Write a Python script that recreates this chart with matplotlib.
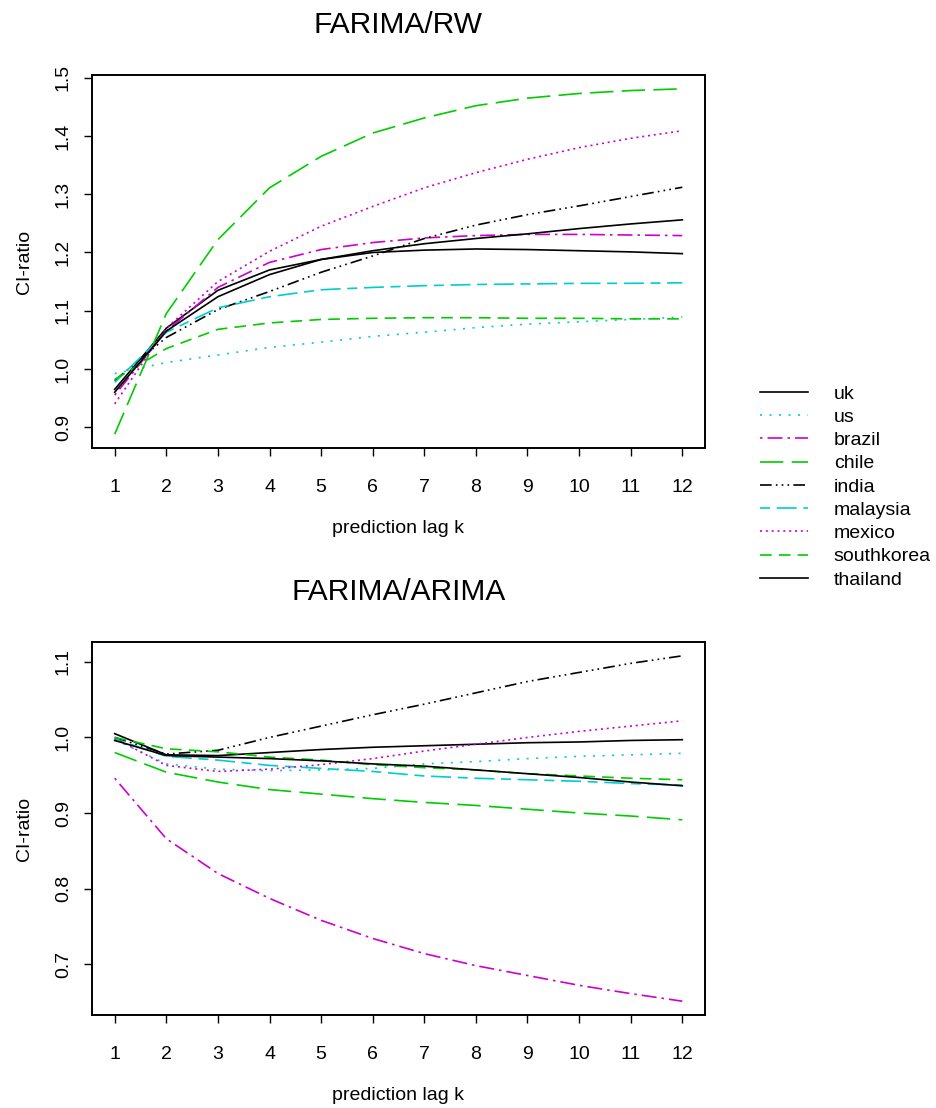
import matplotlib
matplotlib.use("Agg")
import matplotlib.pyplot as plt

plt.rcParams['font.family'] = ['Liberation Sans', 'DejaVu Sans']

lags = list(range(1, 13))
countries = ["uk", "us", "brazil", "chile", "india", "malaysia", "mexico", "southkorea", "thailand"]

# FARIMA/RW CI-ratio
rw_uk         = [0.965, 1.070, 1.135, 1.170, 1.188, 1.200, 1.204, 1.206, 1.205, 1.203, 1.201, 1.198]
rw_us         = [0.992, 1.011, 1.024, 1.037, 1.046, 1.056, 1.063, 1.071, 1.077, 1.081, 1.085, 1.089]
rw_brazil     = [0.955, 1.065, 1.140, 1.183, 1.205, 1.217, 1.225, 1.229, 1.231, 1.231, 1.230, 1.229]
rw_chile      = [0.888, 1.095, 1.222, 1.311, 1.365, 1.405, 1.431, 1.452, 1.465, 1.473, 1.478, 1.481]
rw_india      = [0.980, 1.054, 1.102, 1.133, 1.166, 1.194, 1.224, 1.247, 1.265, 1.280, 1.296, 1.312]
rw_malaysia   = [0.977, 1.063, 1.105, 1.124, 1.136, 1.140, 1.143, 1.145, 1.146, 1.147, 1.147, 1.148]
rw_mexico     = [0.940, 1.070, 1.150, 1.202, 1.245, 1.279, 1.311, 1.337, 1.360, 1.380, 1.396, 1.409]
rw_southkorea = [0.982, 1.035, 1.068, 1.079, 1.085, 1.087, 1.088, 1.088, 1.087, 1.087, 1.086, 1.086]
rw_thailand   = [0.960, 1.065, 1.124, 1.162, 1.188, 1.203, 1.215, 1.224, 1.232, 1.241, 1.249, 1.256]

# FARIMA/ARIMA CI-ratio
ar_uk         = [1.005, 0.977, 0.976, 0.980, 0.984, 0.987, 0.989, 0.991, 0.993, 0.994, 0.996, 0.997]
ar_us         = [0.997, 0.965, 0.958, 0.956, 0.957, 0.959, 0.965, 0.968, 0.972, 0.975, 0.977, 0.979]
ar_brazil     = [0.946, 0.866, 0.820, 0.787, 0.758, 0.734, 0.714, 0.698, 0.685, 0.672, 0.661, 0.651]
ar_chile      = [0.980, 0.954, 0.941, 0.931, 0.925, 0.919, 0.914, 0.910, 0.905, 0.900, 0.896, 0.891]
ar_india      = [1.000, 0.978, 0.983, 1.000, 1.015, 1.030, 1.044, 1.059, 1.074, 1.086, 1.098, 1.108]
ar_malaysia   = [0.998, 0.975, 0.970, 0.963, 0.959, 0.955, 0.949, 0.946, 0.944, 0.942, 0.939, 0.937]
ar_mexico     = [0.999, 0.963, 0.955, 0.958, 0.964, 0.972, 0.982, 0.991, 1.000, 1.008, 1.015, 1.022]
ar_southkorea = [1.000, 0.985, 0.981, 0.974, 0.970, 0.964, 0.960, 0.957, 0.952, 0.949, 0.946, 0.944]
ar_thailand   = [0.996, 0.976, 0.974, 0.972, 0.969, 0.965, 0.962, 0.957, 0.952, 0.947, 0.941, 0.936]

rw_series = [rw_uk, rw_us, rw_brazil, rw_chile, rw_india, rw_malaysia, rw_mexico, rw_southkorea, rw_thailand]
ar_series = [ar_uk, ar_us, ar_brazil, ar_chile, ar_india, ar_malaysia, ar_mexico, ar_southkorea, ar_thailand]

colors = ["black", "#00CDCD", "#CD00CD", "#00CD00", "black", "#00CDCD", "#CD00CD", "#00CD00", "black"]
styles = [
    "-",
    (0, (1.2, 4.5)),
    (0, (1.5, 3, 9, 3)),
    (0, (14, 5)),
    (0, (7, 2.5, 1, 2.5, 1, 2.5, 1, 2.5)),
    (0, (6, 4, 12, 4)),
    (0, (1.2, 2.3)),
    (0, (7, 4.3)),
    "-",
]

FS = 14

fig = plt.figure(figsize=(9.37, 11.08), dpi=100)
ax1 = fig.add_axes([92/937, 1-448/1108, 613/937, 373/1108])
ax2 = fig.add_axes([92/937, 1-1015/1108, 613/937, 373/1108])

def draw(ax, series, title, yticks):
    lines = []
    for s, c, ls in zip(series, colors, styles):
        ln, = ax.plot(lags, s, color=c, linestyle=ls, linewidth=1.2)
        lines.append(ln)
    ax.margins(x=0.04, y=0.04)
    ax.set_xticks(lags)
    ax.set_yticks(yticks)
    ax.set_yticklabels([f"{v:.1f}" for v in yticks], rotation=90, va='center')
    ax.tick_params(direction='out', length=5.5, width=1.0, labelsize=FS, color='black')
    ax.tick_params(axis='x', pad=17)
    ax.tick_params(axis='y', pad=9)
    for sp in ax.spines.values():
        sp.set_linewidth(1.4)
    ax.set_xlabel("prediction lag k", fontsize=FS, labelpad=17)
    ax.set_ylabel("CI-ratio", fontsize=FS, labelpad=16)
    ax.set_title(title, fontsize=21.5, pad=30)
    return lines

lines = draw(ax1, rw_series, "FARIMA/RW", [0.9, 1.0, 1.1, 1.2, 1.3, 1.4, 1.5])
draw(ax2, ar_series, "FARIMA/ARIMA", [0.7, 0.8, 0.9, 1.0, 1.1])

fig.legend(lines, countries, loc='upper left', bbox_to_anchor=(760/937, 1-385/1108),
           frameon=False, fontsize=FS, handlelength=2.45, handletextpad=1.35,
           labelspacing=0.29, borderpad=0, borderaxespad=0)

fig.savefig("out.png", dpi=100)
